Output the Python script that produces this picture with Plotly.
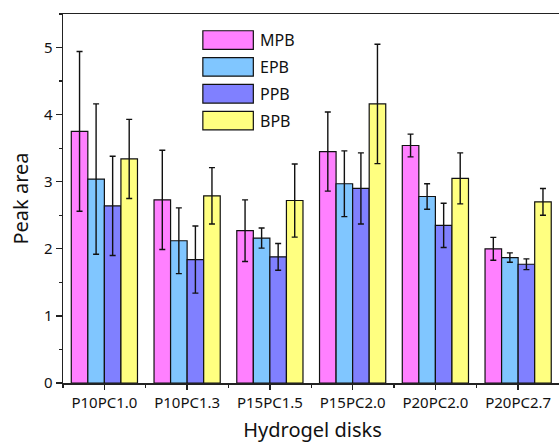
import plotly.graph_objects as go

categories = ["P10PC1.0", "P10PC1.3", "P15PC1.5", "P15PC2.0", "P20PC2.0", "P20PC2.7"]
series_names = ["MPB", "EPB", "PPB", "BPB"]
mpb = [3.75, 2.73, 2.27, 3.45, 3.54, 2.00]
mpb_err = [1.19, 0.74, 0.46, 0.59, 0.17, 0.17]
epb = [3.04, 2.12, 2.16, 2.97, 2.78, 1.87]
epb_err = [1.12, 0.49, 0.15, 0.49, 0.19, 0.07]
ppb = [2.64, 1.84, 1.88, 2.90, 2.35, 1.77]
ppb_err = [0.74, 0.50, 0.20, 0.53, 0.33, 0.08]
bpb = [3.34, 2.79, 2.72, 4.16, 3.05, 2.70]
bpb_err = [0.59, 0.42, 0.545, 0.89, 0.38, 0.20]
y_ticks = [0, 1, 2, 3, 4, 5]
colors = ["#FF80FF", "#80C6FF", "#8080FF", "#FFFF80"]

values = [mpb, epb, ppb, bpb]
errors = [mpb_err, epb_err, ppb_err, bpb_err]
xpos = list(range(len(categories)))

FONT = "Noto Sans"
fig = go.Figure()
for name, vals, errs, col in zip(series_names, values, errors, colors):
    fig.add_trace(go.Bar(
        x=xpos, y=vals, name=name,
        marker=dict(color=col, line=dict(color="#111111", width=1.2)),
        error_y=dict(type="data", array=errs, visible=True, color="#111111",
                     thickness=1.4, width=3),
        showlegend=False,
    ))

# manual legend (large swatches like the original), placed in data coordinates of the frame
box_x0, box_x1 = 1.19, 1.80
top0, box_h, step = 5.25, 0.277, 0.40
for i, (name, col) in enumerate(zip(series_names, colors)):
    y1 = top0 - i * step
    y0 = y1 - box_h
    fig.add_shape(type="rect", xref="x", yref="y", x0=box_x0, x1=box_x1,
                  y0=y0, y1=y1, fillcolor=col, line=dict(color="#111111", width=1.2))
    fig.add_annotation(xref="x", yref="y", x=1.86, y=(y0 + y1) / 2,
                       text=name, showarrow=False, xanchor="left", yanchor="middle",
                       font=dict(family=FONT, size=16, color="#111111"))

axis_line = dict(showline=True, linecolor="#222222", linewidth=1.5)
fig.update_layout(
    width=562, height=443,
    margin=dict(l=63, r=0, t=14, b=60),
    paper_bgcolor="white", plot_bgcolor="white",
    barmode="group", bargap=0.2, bargroupgap=0,
    font=dict(family=FONT, size=15, color="#111111"),
    xaxis=dict(
        **axis_line, mirror=True,
        range=[-0.5, 5.53], tickvals=xpos, ticktext=categories,
        ticks="outside", ticklen=5, tickwidth=1.3, tickcolor="#222222",
        minor=dict(tick0=0.5, dtick=1, ticks="outside", ticklen=3, tickwidth=1.3,
                   tickcolor="#222222", showgrid=False),
        showgrid=False, zeroline=False,
        tickfont=dict(family=FONT, size=15),
        title=dict(text="Hydrogel disks", font=dict(family=FONT, size=20), standoff=14),
    ),
    yaxis=dict(
        **axis_line, mirror=False,
        range=[0, 5.5], tickvals=y_ticks,
        ticks="outside", ticklen=6, tickwidth=1.3, tickcolor="#222222",
        minor=dict(tick0=0, dtick=0.5, ticks="outside", ticklen=3, tickwidth=1.3,
                   tickcolor="#222222", showgrid=False),
        showgrid=False, zeroline=False,
        tickfont=dict(family=FONT, size=15),
        title=dict(text="Peak area", font=dict(family=FONT, size=20), standoff=10),
    ),
)

fig.write_html("out.html", config={"displayModeBar": False, "staticPlot": True},
               post_script="document.documentElement.style.overflow='hidden';document.body.style.margin='0px';document.body.style.overflow='hidden';")
